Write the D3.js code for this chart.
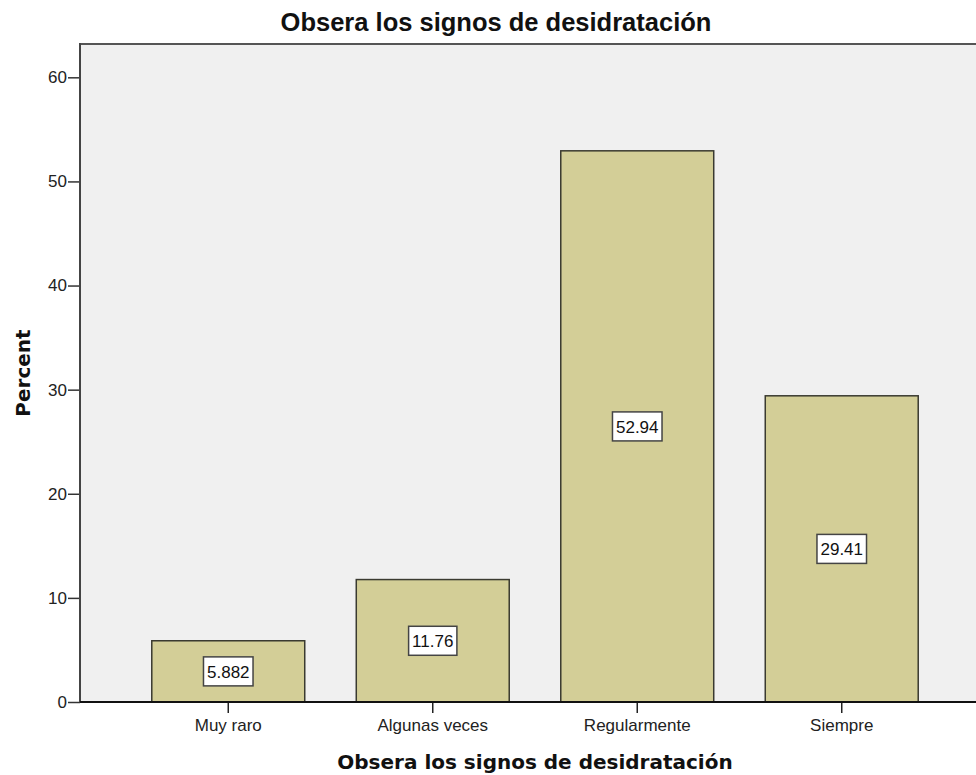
<!DOCTYPE html>
<html>
<head>
<meta charset="utf-8">
<script src="https://cdn.jsdelivr.net/npm/d3@7"></script>
<style>
  body { margin: 0; background: #fff; }
  svg { display: block; }
  .tick text { font-family: "Liberation Sans", Arial, sans-serif; font-size: 17px; fill: #222; }
</style>
</head>
<body>
<svg id="chart" width="976" height="775"></svg>
<script>
// data
const categories = ["Muy raro", "Algunas veces", "Regularmente", "Siempre"];
const percents = [5.882, 11.76, 52.94, 29.41];
const yTicks = [0, 10, 20, 30, 40, 50, 60];

const svg = d3.select("#chart");
const plotLeft = 80, plotRight = 990, plotTop = 44, plotBottom = 702;

const x = d3.scaleBand()
  .domain(categories)
  .range([plotLeft, plotRight])
  .paddingInner(0.252)
  .paddingOuter(0.351);

const y = d3.scaleLinear()
  .domain([0, 63.2])
  .range([plotBottom, plotTop]);

// plot background
svg.append("rect")
  .attr("x", plotLeft).attr("y", plotTop)
  .attr("width", plotRight - plotLeft).attr("height", plotBottom - plotTop)
  .attr("fill", "#f0f0f0");
svg.append("line")
  .attr("x1", plotLeft).attr("x2", plotRight)
  .attr("y1", plotTop).attr("y2", plotTop)
  .attr("stroke", "#555").attr("stroke-width", 2);

// bars
svg.selectAll(".bar")
  .data(percents)
  .enter().append("rect")
  .attr("class", "bar")
  .attr("x", (d, i) => x(categories[i]))
  .attr("y", d => y(d))
  .attr("width", x.bandwidth())
  .attr("height", d => plotBottom - y(d))
  .attr("fill", "#d3ce97")
  .attr("stroke", "#3a3a30")
  .attr("stroke-width", 1.5);

// value labels
const lab = svg.selectAll(".lab")
  .data(percents)
  .enter().append("g")
  .attr("class", "lab")
  .attr("transform", (d, i) => `translate(${x(categories[i]) + x.bandwidth() / 2},${(y(d) + plotBottom) / 2})`);
lab.append("text")
  .attr("text-anchor", "middle")
  .attr("dy", "0.36em")
  .style("font-family", "Liberation Sans, Arial, sans-serif")
  .style("font-size", "17px")
  .attr("fill", "#111")
  .text(d => d);
lab.each(function() {
  const g = d3.select(this);
  const bb = g.select("text").node().getBBox();
  g.insert("rect", "text")
    .attr("x", bb.x - 3.5).attr("y", -14.5)
    .attr("width", bb.width + 7).attr("height", 29)
    .attr("fill", "#fff")
    .attr("stroke", "#444")
    .attr("stroke-width", 1.5);
});

// axes
const yAxis = svg.append("g")
  .attr("transform", `translate(${plotLeft},0)`)
  .call(d3.axisLeft(y).tickValues(yTicks).tickSize(12).tickPadding(1).tickFormat(d3.format("d")));
yAxis.select(".domain").remove();
yAxis.selectAll(".tick line").attr("stroke", "#333").attr("stroke-width", 1.5);
svg.append("line")
  .attr("x1", plotLeft).attr("x2", plotLeft)
  .attr("y1", plotTop - 1).attr("y2", plotBottom)
  .attr("stroke", "#444").attr("stroke-width", 2);

const xAxis = svg.append("g")
  .attr("transform", `translate(0,${plotBottom})`)
  .call(d3.axisBottom(x).tickSize(11).tickPadding(6));
xAxis.select(".domain").remove();
xAxis.selectAll(".tick line").attr("stroke", "#222").attr("stroke-width", 1.5);
svg.append("line")
  .attr("x1", plotLeft).attr("x2", plotRight)
  .attr("y1", plotBottom).attr("y2", plotBottom)
  .attr("stroke", "#111").attr("stroke-width", 2);

// titles
svg.append("text")
  .attr("x", 496).attr("y", 31)
  .attr("text-anchor", "middle")
  .style("font-family", "Liberation Sans, Arial, sans-serif")
  .style("font-weight", "bold")
  .style("font-size", "25.5px")
  .attr("fill", "#111")
  .text("Obsera los signos de desidratación");

svg.append("text")
  .attr("x", (plotLeft + plotRight) / 2).attr("y", 769)
  .attr("text-anchor", "middle")
  .style("font-family", "DejaVu Sans, sans-serif")
  .style("font-weight", "bold")
  .style("font-size", "20px")
  .attr("fill", "#111")
  .text("Obsera los signos de desidratación");

svg.append("text")
  .attr("transform", `translate(30,${(plotTop + plotBottom) / 2}) rotate(-90)`)
  .attr("text-anchor", "middle")
  .style("font-family", "DejaVu Sans, sans-serif")
  .style("font-weight", "bold")
  .style("font-size", "20px")
  .attr("fill", "#111")
  .text("Percent");
</script>
</body>
</html>
